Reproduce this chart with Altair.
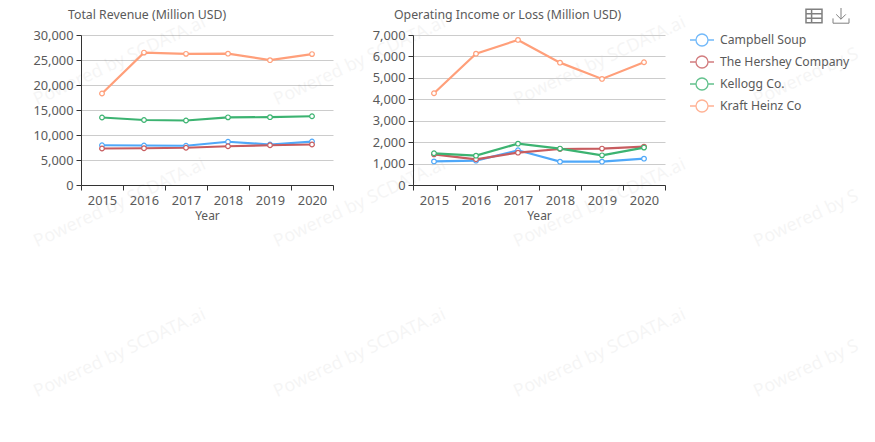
import altair as alt
import pandas as pd

years = [2015, 2016, 2017, 2018, 2019, 2020]
companies = ["Campbell Soup", "The Hershey Company", "Kellogg Co.", "Kraft Heinz Co"]
colors = ["#4fa8f9", "#c75c5f", "#3cb371", "#ff9f7a"]
revenue = {
    "Campbell Soup": [7950, 7900, 7850, 8650, 8100, 8690],
    "The Hershey Company": [7300, 7350, 7450, 7750, 7950, 8100],
    "Kellogg Co.": [13500, 13000, 12900, 13530, 13570, 13750],
    "Kraft Heinz Co": [18300, 26480, 26230, 26270, 24970, 26180],
}
income = {
    "Campbell Soup": [1100, 1135, 1620, 1090, 1090, 1230],
    "The Hershey Company": [1430, 1200, 1510, 1680, 1700, 1790],
    "Kellogg Co.": [1480, 1370, 1930, 1700, 1385, 1745],
    "Kraft Heinz Co": [4280, 6130, 6770, 5710, 4950, 5730],
}
wm_x = [35, 275, 515, 755]
wm_y = [101, 243, 393]

FONT = "Noto Sans"
TEXT = "#5a5a5a"
LEG = "M-1,0H-0.5M0.5,0H1M0.5,0A0.5,0.5 0 1 1 -0.5,0A0.5,0.5 0 1 1 0.5,0Z"
TABLE = "M-1,-0.85H1V0.85H-1ZM-1,-0.28H1M-1,0.28H1M-0.3,-0.85V0.85"
DOWN = "M0,-1V0.4M-0.6,-0.2L0,0.4L0.6,-0.2M-1,0.3V0.9H1V0.3"
ONE = pd.DataFrame({"n": [0]})


def frame(series):
    return pd.DataFrame(
        [{"Year": y, "Company": c, "Value": v} for c in companies for y, v in zip(years, series[c])]
    )


half = [y - 0.5 for y in years] + [years[-1] + 0.5]
x_enc = alt.X(
    "Year:Q",
    scale=alt.Scale(domain=[2014.5, 2020.5], nice=False, zero=False),
    axis=alt.Axis(
        values=half + years,
        title="Year",
        titleFont=FONT, titleFontSize=12, titleFontWeight="normal", titleColor=TEXT, titlePadding=4,
        labelFont=FONT, labelFontSize=12.8, labelColor=TEXT, labelPadding=4,
        labelExpr="datum.value % 1 ? '' : '' + datum.value",
        labelOverlap=False, labelFlush=False, labelBound=False,
        tickOpacity={"condition": {"test": "datum.value % 1 != 0", "value": 1}, "value": 0},
        tickColor="#333333", tickSize=5, domainColor="#333333", grid=False,
    ),
)


def panel(series, title, top, step, title_dx, extra=None):
    df = frame(series)
    y_enc = alt.Y(
        "Value:Q",
        scale=alt.Scale(domain=[0, top], nice=False),
        axis=alt.Axis(
            values=list(range(0, top + 1, step)), title=None, format=",.0f",
            labelFont=FONT, labelFontSize=12.8, labelColor=TEXT, labelPadding=3,
            tickColor="#333333", tickSize=5, domainColor="#333333",
            gridColor="#cccccc", grid=True,
        ),
    )
    color = alt.Color(
        "Company:N",
        scale=alt.Scale(domain=companies, range=colors),
        legend=alt.Legend(
            title=None, orient="none", legendX=608, legendY=-6,
            symbolType=LEG, symbolSize=576, symbolStrokeWidth=1.3, symbolOpacity=0.8,
            labelFont=FONT, labelFontSize=12.2, labelColor=TEXT, labelOffset=5,
            clipHeight=22, rowPadding=0, symbolFillColor="white",
        ),
    )
    order = alt.Order("rank:Q")
    base = alt.Chart(df).transform_calculate(
        rank="indexof(%r, datum.Company)" % companies
    ).encode(x=x_enc, y=y_enc, color=color, order=order)
    lines = base.mark_line(strokeWidth=2.2)
    points = base.mark_point(filled=False, fill="white", size=22, strokeWidth=1.2, opacity=1)
    head = alt.Chart(ONE).mark_text(
        align="left", baseline="middle", font=FONT, fontSize=12.3, color=TEXT, clip=False
    ).encode(x=alt.value(title_dx), y=alt.value(-20), text=alt.value(title))
    layers = list(extra or []) + [head, lines, points]
    return alt.layer(*layers).properties(width=252, height=150)


PANEL_X, PANEL_Y = 81, 35
extras = [
    alt.Chart(ONE).mark_text(
        angle=335, align="left", baseline="middle", font=FONT, fontSize=18, color="#000000",
        opacity=0.035, clip=False
    ).encode(
        x=alt.value(x - PANEL_X),
        y=alt.value(y - PANEL_Y),
        text=alt.value("Powered by S" if x == wm_x[-1] else "Powered by SCDATA.ai"),
    )
    for x in wm_x
    for y in wm_y
]
extras.append(
    alt.Chart(ONE).mark_point(shape=TABLE, size=256, filled=False, color="#808080", strokeWidth=1.5, opacity=1)
    .encode(x=alt.value(814 - PANEL_X), y=alt.value(16 - PANEL_Y))
)
extras.append(
    alt.Chart(ONE).mark_point(shape=DOWN, size=256, filled=False, color="#808080", strokeWidth=1, opacity=1)
    .encode(x=alt.value(841 - PANEL_X), y=alt.value(16 - PANEL_Y))
)

left = panel(revenue, "Total Revenue (Million USD)", 30000, 5000, -13, extra=extras)
right = panel(income, "Operating Income or Loss (Million USD)", 7000, 1000, -19)

chart = alt.hconcat(left, right, spacing=80, bounds="flush").resolve_scale(
    x="independent", y="independent", color="shared"
).resolve_legend(color="shared").properties(
    padding={"left": 23, "top": -2, "right": 0, "bottom": 0},
    background="white",
).configure_view(stroke=None)

chart.save("out.html", embed_options={"renderer": "svg", "actions": False})
